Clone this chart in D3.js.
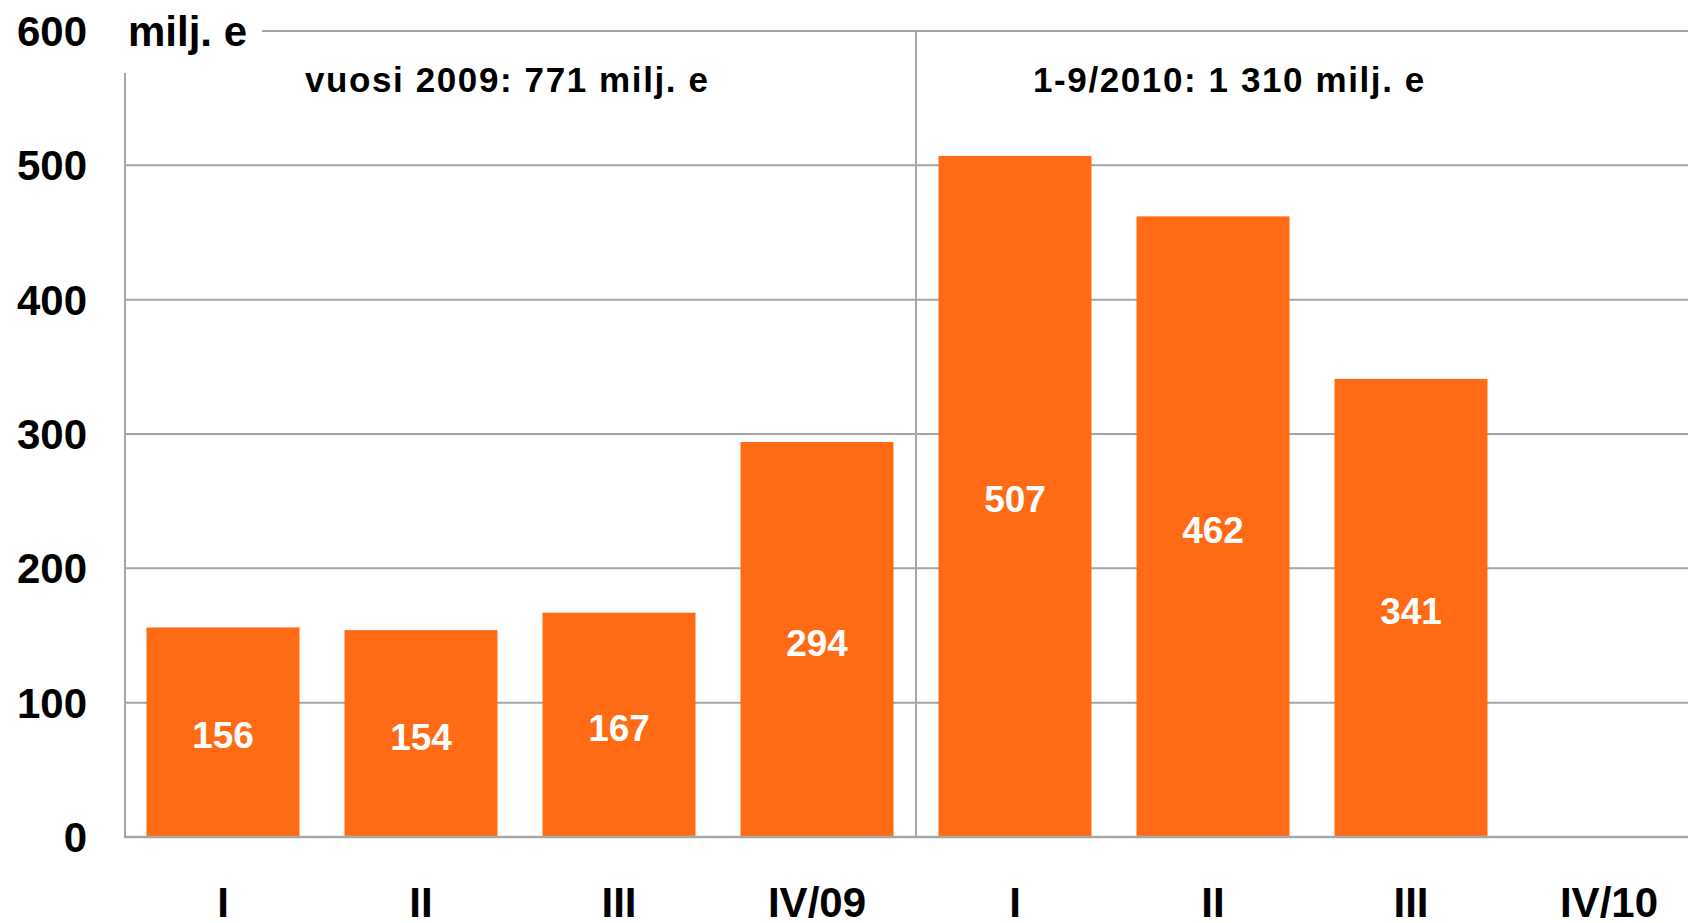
<!DOCTYPE html>
<html>
<head>
<meta charset="utf-8">
<script src="https://cdn.jsdelivr.net/npm/d3@7"></script>
<style>
  html, body { margin: 0; padding: 0; background: #fff; overflow: hidden; }
  svg text { font-family: "Liberation Sans", Arial, sans-serif; font-weight: bold; }
</style>
</head>
<body>
<div id="chart"></div>
<script>
(function(){
    // data
    const quarters = ["I", "II", "III", "IV/09", "I", "II", "III", "IV/10"];
    const values = [156, 154, 167, 294, 507, 462, 341, null];
    const yTicks = [0, 100, 200, 300, 400, 500, 600];
    const unitLabel = "milj. e";
    const periodNotes = ["vuosi 2009: 771 milj. e", "1-9/2010: 1 310 milj. e"];

    const width = 1688;
    const height = 923;
    const left = 124, right = 1708;   // plot runs past the right edge (cropped like the original)
    const top = 31, bottom = 837;

    const svg = d3.select("#chart").append("svg")
        .attr("width", width)
        .attr("height", height);

    const x = d3.scaleBand()
        .domain(d3.range(quarters.length))
        .range([left, right])
        .paddingInner(45 / 198)
        .paddingOuter(45 / 198 / 2);

    const y = d3.scaleLinear()
        .domain([0, 600])
        .range([bottom, top]);

    const gridColor = "#a6a6a6";

    // horizontal gridlines (top one starts after the unit label)
    svg.append("g")
        .selectAll("line")
        .data(yTicks.filter(d => d > 0))
        .join("line")
        .attr("x1", d => d === 600 ? 262 : left)
        .attr("x2", width)
        .attr("y1", d => y(d))
        .attr("y2", d => y(d))
        .attr("stroke", gridColor)
        .attr("stroke-width", 2);

    // left axis line
    svg.append("line")
        .attr("x1", left + 1).attr("x2", left + 1)
        .attr("y1", 73).attr("y2", bottom)
        .attr("stroke", gridColor).attr("stroke-width", 2);

    // divider between years
    const divX = x(4) - x.step() * x.paddingInner() / 2;
    svg.append("line")
        .attr("x1", divX).attr("x2", divX)
        .attr("y1", y(600)).attr("y2", bottom)
        .attr("stroke", gridColor).attr("stroke-width", 2);

    // y tick labels
    svg.append("g")
        .selectAll("text")
        .data(yTicks)
        .join("text")
        .attr("x", 87)
        .attr("y", d => y(d) + 15)
        .attr("text-anchor", "end")
        .attr("font-size", 42)
        .attr("fill", "#000")
        .text(d => d);

    svg.append("text")
        .attr("x", 128)
        .attr("y", y(600) + 15)
        .attr("font-size", 42)
        .attr("fill", "#000")
        .text(unitLabel);

    // bars
    const bars = values.map((v, i) => ({ i, v })).filter(d => d.v != null);

    svg.append("g")
        .selectAll("rect")
        .data(bars)
        .join("rect")
        .attr("x", d => x(d.i))
        .attr("width", x.bandwidth())
        .attr("y", d => y(d.v))
        .attr("height", d => y(0) - y(d.v))
        .attr("fill", "#ff6b14");

    // baseline
    svg.append("line")
        .attr("x1", left).attr("x2", width)
        .attr("y1", bottom).attr("y2", bottom)
        .attr("stroke", gridColor).attr("stroke-width", 2.5);

    // value labels
    svg.append("g")
        .selectAll("text")
        .data(bars)
        .join("text")
        .attr("x", d => x(d.i) + x.bandwidth() / 2)
        .attr("y", d => (y(d.v) + y(0)) / 2 + 16)
        .attr("text-anchor", "middle")
        .attr("font-size", 37)
        .attr("fill", "#fff")
        .text(d => d.v);

    // category labels
    svg.append("g")
        .selectAll("text")
        .data(quarters)
        .join("text")
        .attr("x", (d, i) => x(i) + x.bandwidth() / 2)
        .attr("y", 917)
        .attr("text-anchor", "middle")
        .attr("font-size", 42)
        .attr("fill", "#000")
        .text(d => d);

    // period notes
    svg.append("g")
        .selectAll("text")
        .data(periodNotes)
        .join("text")
        .attr("x", (d, i) => i === 0 ? 305 : 1033)
        .attr("y", 92)
        .attr("font-size", 35)
        .attr("letter-spacing", 1.6)
        .attr("fill", "#000")
        .text(d => d);
})();
</script>
</body>
</html>
